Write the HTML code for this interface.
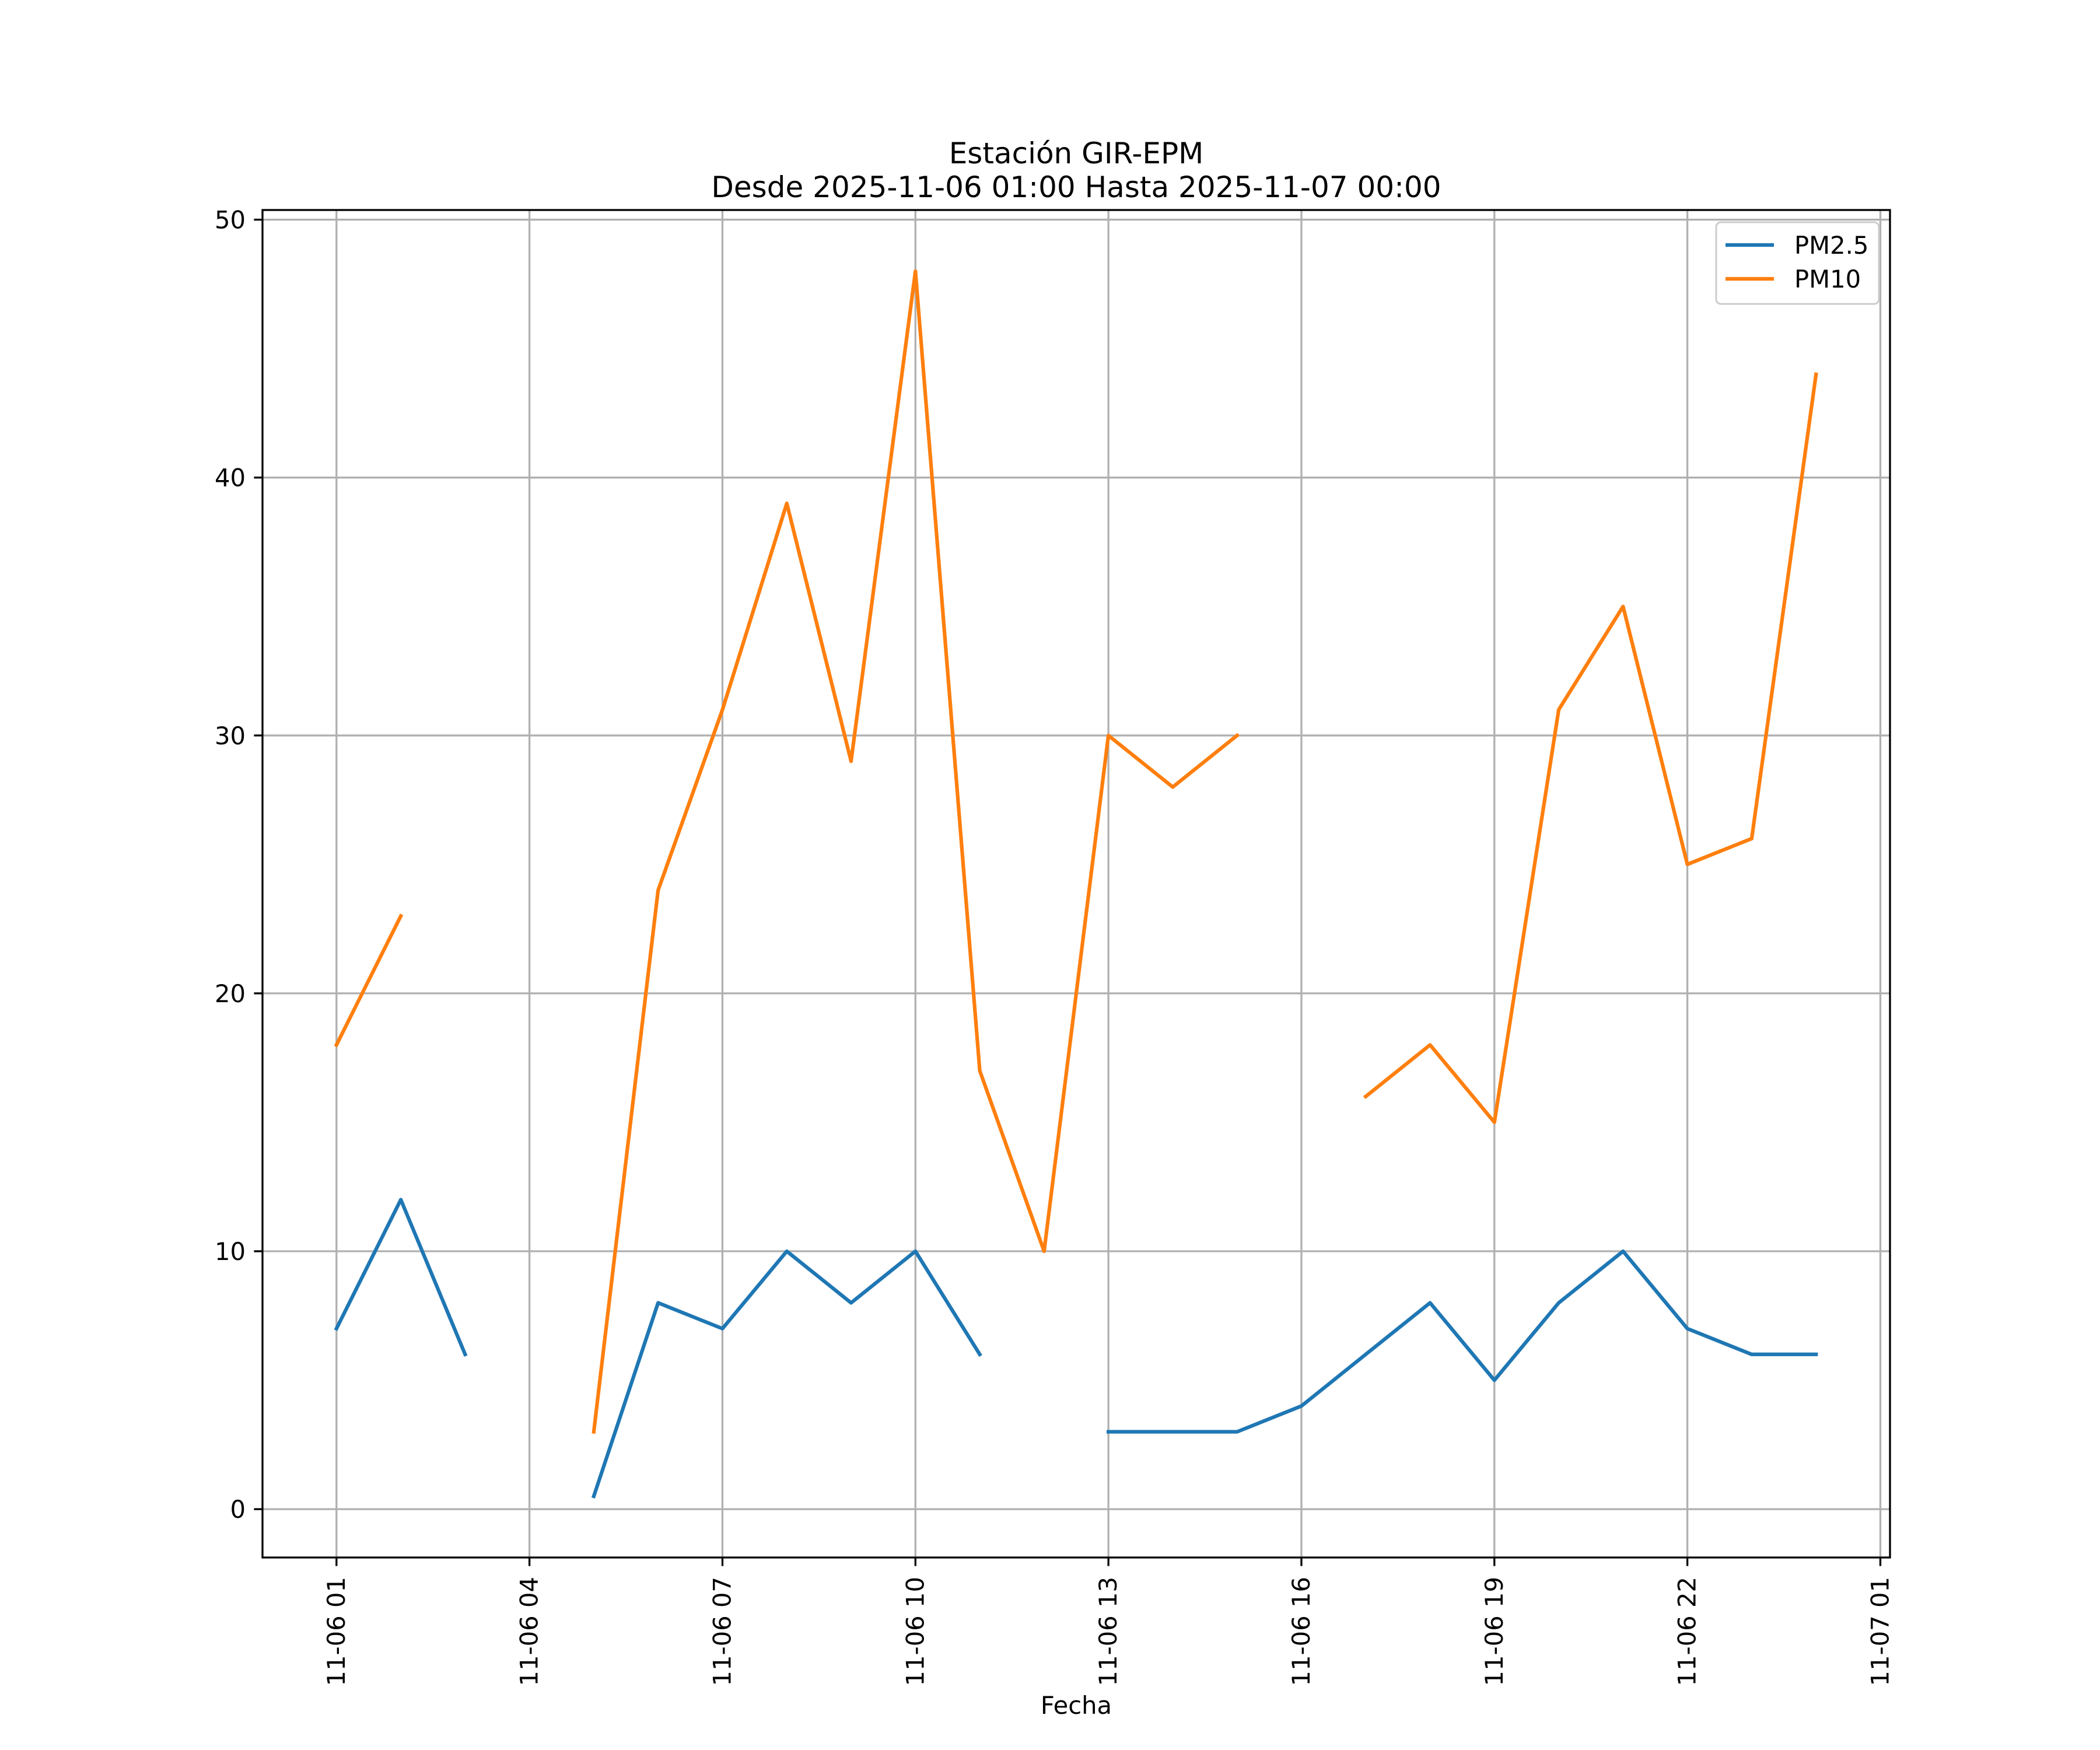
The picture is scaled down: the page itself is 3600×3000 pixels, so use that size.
<!DOCTYPE html>
<html><head><meta charset="utf-8"><style>body{margin:0;background:#fff}svg{display:block}text{font-family:"DejaVu Sans","Liberation Sans",sans-serif;fill:#000}</style></head>
<body>
<svg id="chart" width="3600" height="3000" viewBox="0 0 3600 3000" xmlns="http://www.w3.org/2000/svg">
<rect width="3600" height="3000" fill="#fff"/>
<text x="1845" y="280" font-size="50" text-anchor="middle">Estación GIR-EPM</text>
<text x="1845" y="338" font-size="50" text-anchor="middle">Desde 2025-11-06 01:00 Hasta 2025-11-07 00:00</text>
<g id="grid"></g><g id="series"></g><g id="axes"></g>
<text x="1845" y="2938" font-size="41.7" text-anchor="middle">Fecha</text>
<g>
<rect x="2942" y="381" width="279" height="140" rx="8" fill="#fff" fill-opacity="0.8" stroke="#cccccc" stroke-width="3"/>
<line x1="2958" y1="420" x2="3041" y2="420" stroke="#1f77b4" stroke-width="6.25"/>
<text x="3076" y="435" font-size="41.7">PM2.5</text>
<line x1="2958" y1="478" x2="3041" y2="478" stroke="#ff7f0e" stroke-width="6.25"/>
<text x="3076" y="493" font-size="41.7">PM10</text>
</g>
</svg>
<script>
const hours = [1,2,3,4,5,6,7,8,9,10,11,12,13,14,15,16,17,18,19,20,21,22,23,24];
const pm25 = [7,12,6,null,0.5,8,7,10,8,10,6,null,3,3,3,4,6,8,5,8,10,7,6,6];
const pm10 = [18,23,null,null,3,24,31,39,29,48,17,10,30,28,30,null,16,18,15,31,35,25,26,44];
const xTickHours = [1,4,7,10,13,16,19,22,25];
const xTickLabels = ["11-06 01","11-06 04","11-06 07","11-06 10","11-06 13","11-06 16","11-06 19","11-06 22","11-07 01"];
const yTicks = [0,10,20,30,40,50];

const L=450,R=3240,T=360,B=2670;
const xMin=-0.15,xMax=25.15,yMin=-1.875,yMax=50.375;
const X=h=>L+(h-xMin)/(xMax-xMin)*(R-L);
const Y=v=>B-(v-yMin)/(yMax-yMin)*(B-T);
const NS="http://www.w3.org/2000/svg";
function mk(tag,attrs,parent){const e=document.createElementNS(NS,tag);for(const k in attrs)e.setAttribute(k,attrs[k]);parent.appendChild(e);return e;}
const grid=document.getElementById('grid'),series=document.getElementById('series'),axes=document.getElementById('axes');
xTickHours.forEach((h,i)=>{
  const x=X(h);
  const g=mk('line',{x1:x,y1:T,x2:x,y2:B,stroke:'#b0b0b0','stroke-width':3.3},grid);
  
  
  const t=mk('line',{x1:x,y1:B,x2:x,y2:B+14.6,stroke:'#000','stroke-width':3.3},axes);
  
  
  const lb=mk('text',{x:0,y:0,'font-size':41.7,'text-anchor':'end',transform:`translate(${x+14},2703) rotate(-90)`},axes);
  lb.textContent=xTickLabels[i];
  
  
});
yTicks.forEach(v=>{
  const y=Y(v);
  const g=mk('line',{x1:L,y1:y,x2:R,y2:y,stroke:'#b0b0b0','stroke-width':3.3},grid);
  
  
  const t=mk('line',{x1:L-14.6,y1:y,x2:L,y2:y,stroke:'#000','stroke-width':3.3},axes);
  
  
  const lb=mk('text',{x:L-29,y:y+15,'font-size':41.7,'text-anchor':'end'},axes);
  lb.textContent=String(v);
  
  
});
const frame=mk('rect',{x:L,y:T,width:R-L,height:B-T,fill:'none',stroke:'#000','stroke-width':3.3},axes);


function drawSeries(vals,color,name){
  let d='',pen=false;
  vals.forEach((v,i)=>{
    if(v===null){pen=false;return;}
    d+=(pen?'L':'M')+X(hours[i]).toFixed(1)+' '+Y(v).toFixed(1)+' ';pen=true;
  });
  const p=mk('path',{d:d,fill:'none',stroke:color,'stroke-width':6.25,'stroke-linejoin':'round','stroke-linecap':'square'},series);
  
  
}
drawSeries(pm25,'#1f77b4','pm25-line');
drawSeries(pm10,'#ff7f0e','pm10-line');
</script>
</body></html>
